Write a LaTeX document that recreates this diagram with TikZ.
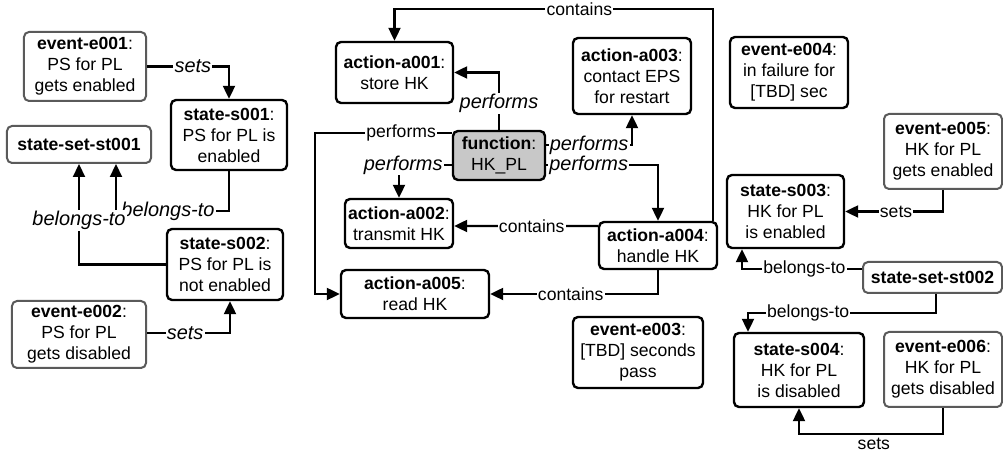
\documentclass[tikz,border=0pt]{standalone}
\usepackage{fontspec}
\setmainfont{Liberation Sans}
\usetikzlibrary{arrows.meta}
\definecolor{boxgrey}{RGB}{90,90,90}
\definecolor{funcgrey}{RGB}{200,200,200}
\tikzset{
  base/.style={rounded corners=2.5bp, align=center, inner sep=1bp},
  solidbox/.style={base, draw=black, line width=1.2bp},
  greybox/.style={base, draw=boxgrey, line width=1bp},
  funcbox/.style={solidbox, fill=funcgrey},
  conn/.style={line width=1.1bp, rounded corners=0pt, -{Triangle[length=6.5bp,width=6bp]}},
  lbl/.style={fill=white, inner sep=0.6bp, font=\itshape},
  plain/.style={fill=white, inner sep=0.6bp},
}
\begin{document}
\begin{tikzpicture}[x=0.5bp,y=-0.5bp,font={\fontsize{8.8bp}{10.5bp}\selectfont}]
  \useasboundingbox (0,0) rectangle (1003,457);

  % left group
  \node[greybox, minimum width=61bp, minimum height=34.5bp] (e001) at (85,66.5) {\textbf{event-e001}:\\PS for PL\\gets enabled};
  \node[solidbox, minimum width=58bp, minimum height=35bp] (s001) at (229,135) {\textbf{state-s001}:\\PS for PL is\\enabled};
  \node[greybox, minimum width=72bp, minimum height=18.5bp] (st001) at (79,144.5) {\textbf{state-set-st001}};
  \node[solidbox, minimum width=58bp, minimum height=35.5bp] (s002) at (225,264.5) {\textbf{state-s002}:\\PS for PL is\\not enabled};
  \node[greybox, minimum width=67bp, minimum height=33.5bp] (e002) at (79,334.5) {\textbf{event-e002}:\\PS for PL\\gets disabled};

  % middle group
  \node[solidbox, minimum width=58.5bp, minimum height=30.5bp] (a001) at (394.5,72.5) {\textbf{action-a001}:\\store HK};
  \node[solidbox, minimum width=59bp, minimum height=38bp] (a003) at (632,76) {\textbf{action-a003}:\\contact EPS\\for restart};
  \node[funcbox, minimum width=46bp, minimum height=24.5bp] (fn) at (499,155.5) {\textbf{function}:\\HK\_PL};
  \node[solidbox, minimum width=54bp, minimum height=24.5bp] (a002) at (399,223.5) {\textbf{action-a002}:\\transmit HK};
  \node[solidbox, minimum width=59bp, minimum height=23.5bp] (a004) at (658,245.5) {\textbf{action-a004}:\\handle HK};
  \node[solidbox, minimum width=74bp, minimum height=24bp] (a005) at (415,294) {\textbf{action-a005}:\\read HK};
  \node[solidbox, minimum width=65bp, minimum height=35.5bp] (e003) at (638,352.5) {\textbf{event-e003}:\\{}[TBD] seconds\\pass};

  % right group
  \node[solidbox, minimum width=59bp, minimum height=35.5bp] (e004) at (789,72.5) {\textbf{event-e004}:\\in failure for\\{}[TBD] sec};
  \node[greybox, minimum width=59bp, minimum height=37.5bp] (e005) at (943,151.5) {\textbf{event-e005}:\\HK for PL\\gets enabled};
  \node[solidbox, minimum width=58.5bp, minimum height=36.5bp] (s003) at (785.5,211.5) {\textbf{state-s003}:\\HK for PL\\is enabled};
  \node[greybox, minimum width=69.5bp, minimum height=15.5bp] (st002) at (932.5,277.5) {\textbf{state-set-st002}};
  \node[solidbox, minimum width=65bp, minimum height=37bp] (s004) at (799,370) {\textbf{state-s004}:\\HK for PL\\is disabled};
  \node[greybox, minimum width=59bp, minimum height=37.5bp] (e006) at (943,369.5) {\textbf{event-e006}:\\HK for PL\\gets disabled};

  % left connectors
  \draw[conn] (e001.east) -| node[lbl,pos=0.28]{sets} (s001.north);
  \draw[conn] (s001.south) -- ++(0,40) -| node[lbl,pos=0.27]{belongs-to} ([xshift=18.5bp]st001.south);
  \draw[conn] (s002.west) -| node[lbl,pos=0.72]{belongs-to} (st001.south);
  \draw[conn] ([yshift=0.75bp]e002.east) -| node[lbl,pos=0.23]{sets} ([xshift=2.5bp]s002.south);

  % function connectors
  \draw[conn] (fn.north) |- node[lbl,pos=0.23]{performs} (a001.east);
  \draw[conn] ([yshift=-1.5bp]fn.north west) -- node[plain,pos=0.37]{performs} ++(-137,0) |- (a005.west);
  \draw[conn] ([yshift=-4.75bp]fn.west) -| node[lbl,pos=0.46]{performs} (a002.north);
  \draw[conn] ([yshift=5.25bp]fn.east) -| node[lbl,pos=0.25]{performs} (a003.south);
  \draw[conn] ([yshift=-4.75bp]fn.east) -| node[lbl,pos=0.19]{performs} (a004.north);

  % contains
  \draw[conn] ([yshift=9.75bp]a004.west) -- node[plain,pos=0.46]{contains} ([yshift=-1.25bp]a002.east);
  \draw[conn] (a004.south) |- node[plain,pos=0.76]{contains} (a005.east);
  \draw[conn] ([xshift=-2.5bp]a004.north east) -- ++(0,-212) -| node[plain,pos=0.21]{contains} (a001.north);

  % right connectors
  \draw[conn] (e005.south) |- node[plain,pos=0.74]{sets} (s003.east);
  \draw[conn] ([yshift=4.25bp]st002.west) -| node[plain,pos=0.24]{belongs-to} ([xshift=-21.75bp]s003.south);
  \draw[conn] ([xshift=1.75bp]st002.south) -- ++(0,19) -| node[plain,pos=0.34]{belongs-to} ([xshift=-25.5bp]s004.north);
  \draw[conn] (e006.south) -- ++(0,26) -| node[below,inner sep=1.5bp,pos=0.24]{sets} (s004.south);
\end{tikzpicture}
\end{document}
